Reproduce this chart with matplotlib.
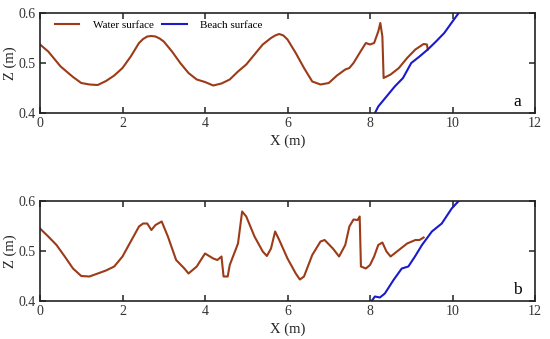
import numpy as np
import matplotlib
matplotlib.use("Agg")
import matplotlib.pyplot as plt

plt.rcParams['font.family'] = ['Liberation Serif', 'DejaVu Serif']

# Panel a: water surface
xa_w = [0.0, 0.2, 0.5, 0.8, 1.0, 1.2, 1.4, 1.6, 1.8, 2.0, 2.2, 2.4, 2.5, 2.6, 2.7, 2.8, 2.9,
        3.0, 3.2, 3.4, 3.6, 3.8, 4.0, 4.2, 4.4, 4.6, 4.8, 5.0, 5.2, 5.4, 5.6, 5.7, 5.8, 5.9,
        6.0, 6.2, 6.4, 6.6, 6.8, 7.0, 7.2, 7.4, 7.5, 7.6, 7.8, 7.9, 8.0, 8.1, 8.2, 8.25,
        8.3, 8.33, 8.5, 8.7, 8.9, 9.1, 9.3, 9.38, 9.4]
za_w = [0.537, 0.523, 0.493, 0.472, 0.460, 0.457, 0.456, 0.464, 0.475, 0.490, 0.513, 0.540,
        0.548, 0.553, 0.554, 0.553, 0.549, 0.543, 0.523, 0.500, 0.480, 0.467, 0.462, 0.455,
        0.459, 0.467, 0.483, 0.497, 0.517, 0.537, 0.550, 0.555, 0.558, 0.555, 0.547, 0.520,
        0.490, 0.463, 0.457, 0.460, 0.475, 0.487, 0.490, 0.500, 0.527, 0.540, 0.537, 0.540,
        0.563, 0.580, 0.553, 0.470, 0.477, 0.490, 0.510, 0.527, 0.538, 0.537, 0.527]
# Panel a: beach surface
xa_b = [8.12, 8.2, 8.4, 8.6, 8.8, 9.0, 9.2, 9.4, 9.6, 9.8, 10.0, 10.15]
za_b = [0.400, 0.413, 0.433, 0.453, 0.470, 0.500, 0.513, 0.527, 0.543, 0.560, 0.583, 0.600]

# Panel b: water surface
xb_w = [0.0, 0.2, 0.4, 0.6, 0.8, 1.0, 1.2, 1.4, 1.6, 1.8, 2.0, 2.2, 2.4, 2.5, 2.6, 2.7, 2.8,
        2.95, 3.1, 3.3, 3.5, 3.6, 3.8, 4.0, 4.2, 4.3, 4.4, 4.45, 4.55, 4.6, 4.8, 4.9, 5.0,
        5.2, 5.4, 5.5, 5.6, 5.7, 5.8, 6.0, 6.2, 6.3, 6.4, 6.6, 6.8, 6.9, 7.1, 7.25, 7.4,
        7.5, 7.6, 7.7, 7.75, 7.78, 7.9, 8.0, 8.1, 8.2, 8.3, 8.4, 8.5, 8.7, 8.9, 9.1, 9.2, 9.3]
zb_w = [0.545, 0.529, 0.512, 0.489, 0.465, 0.450, 0.449, 0.455, 0.461, 0.469, 0.489, 0.519,
        0.549, 0.555, 0.555, 0.542, 0.552, 0.559, 0.529, 0.482, 0.465, 0.455, 0.469, 0.495,
        0.485, 0.482, 0.489, 0.449, 0.449, 0.472, 0.515, 0.579, 0.569, 0.529, 0.499, 0.490,
        0.505, 0.539, 0.522, 0.485, 0.455, 0.443, 0.449, 0.492, 0.519, 0.522, 0.505, 0.489,
        0.512, 0.549, 0.563, 0.562, 0.569, 0.469, 0.465, 0.472, 0.489, 0.512, 0.517, 0.499,
        0.489, 0.502, 0.515, 0.522, 0.522, 0.527]
# Panel b: beach surface
xb_b = [8.04, 8.12, 8.24, 8.36, 8.57, 8.77, 8.93, 9.09, 9.26, 9.5, 9.74, 9.98, 10.15]
zb_b = [0.400, 0.409, 0.407, 0.415, 0.442, 0.465, 0.469, 0.489, 0.512, 0.539, 0.555, 0.585, 0.600]

xticks = [0, 2, 4, 6, 8, 10, 12]
yticks = [0.4, 0.5, 0.6]
water_col = '#9c3b18'
beach_col = '#1a1acc'

fig = plt.figure(figsize=(5.5, 3.39), dpi=100)
W, H = 550, 339
ax_a = fig.add_axes([40 / W, 1 - 113 / H, 495 / W, 100 / H])
ax_b = fig.add_axes([40 / W, 1 - 301 / H, 495 / W, 100 / H])

for ax, xw, zw, xbch, zbch, lab in [(ax_a, xa_w, za_w, xa_b, za_b, 'a'),
                                     (ax_b, xb_w, zb_w, xb_b, zb_b, 'b')]:
    ax.plot(xw, zw, color=water_col, lw=1.5, label='Water surface',
            solid_joinstyle='round')
    ax.plot(xbch, zbch, color=beach_col, lw=1.5, label='Beach surface',
            solid_joinstyle='round')
    ax.set_xlim(0, 12)
    ax.set_ylim(0.4, 0.6)
    ax.set_xticks(xticks)
    ax.set_yticks(yticks)
    ax.set_yticklabels(['0.4', '0.5', '0.6'])
    ax.tick_params(direction='in', top=True, right=True, labelsize=10, length=4,
                   width=1.2, colors='#333333', labelcolor='#333333', pad=3)
    for s in ax.spines.values():
        s.set_linewidth(1.2)
        s.set_color('#222222')
    ax.set_xlabel('X (m)', fontsize=10.5, labelpad=3, color='#222222')
    ax.set_ylabel('Z (m)', fontsize=10.5, labelpad=1, color='#222222')
    ax.text(0.965, 0.11, lab, transform=ax.transAxes, fontsize=12.5, ha='center', va='center')

ax_a.legend(loc='upper left', bbox_to_anchor=(0.01, 1.03), ncol=2, frameon=False,
            fontsize=8, handlelength=2.2, columnspacing=0.8, handletextpad=1.2)

fig.savefig('out.png', dpi=100)
